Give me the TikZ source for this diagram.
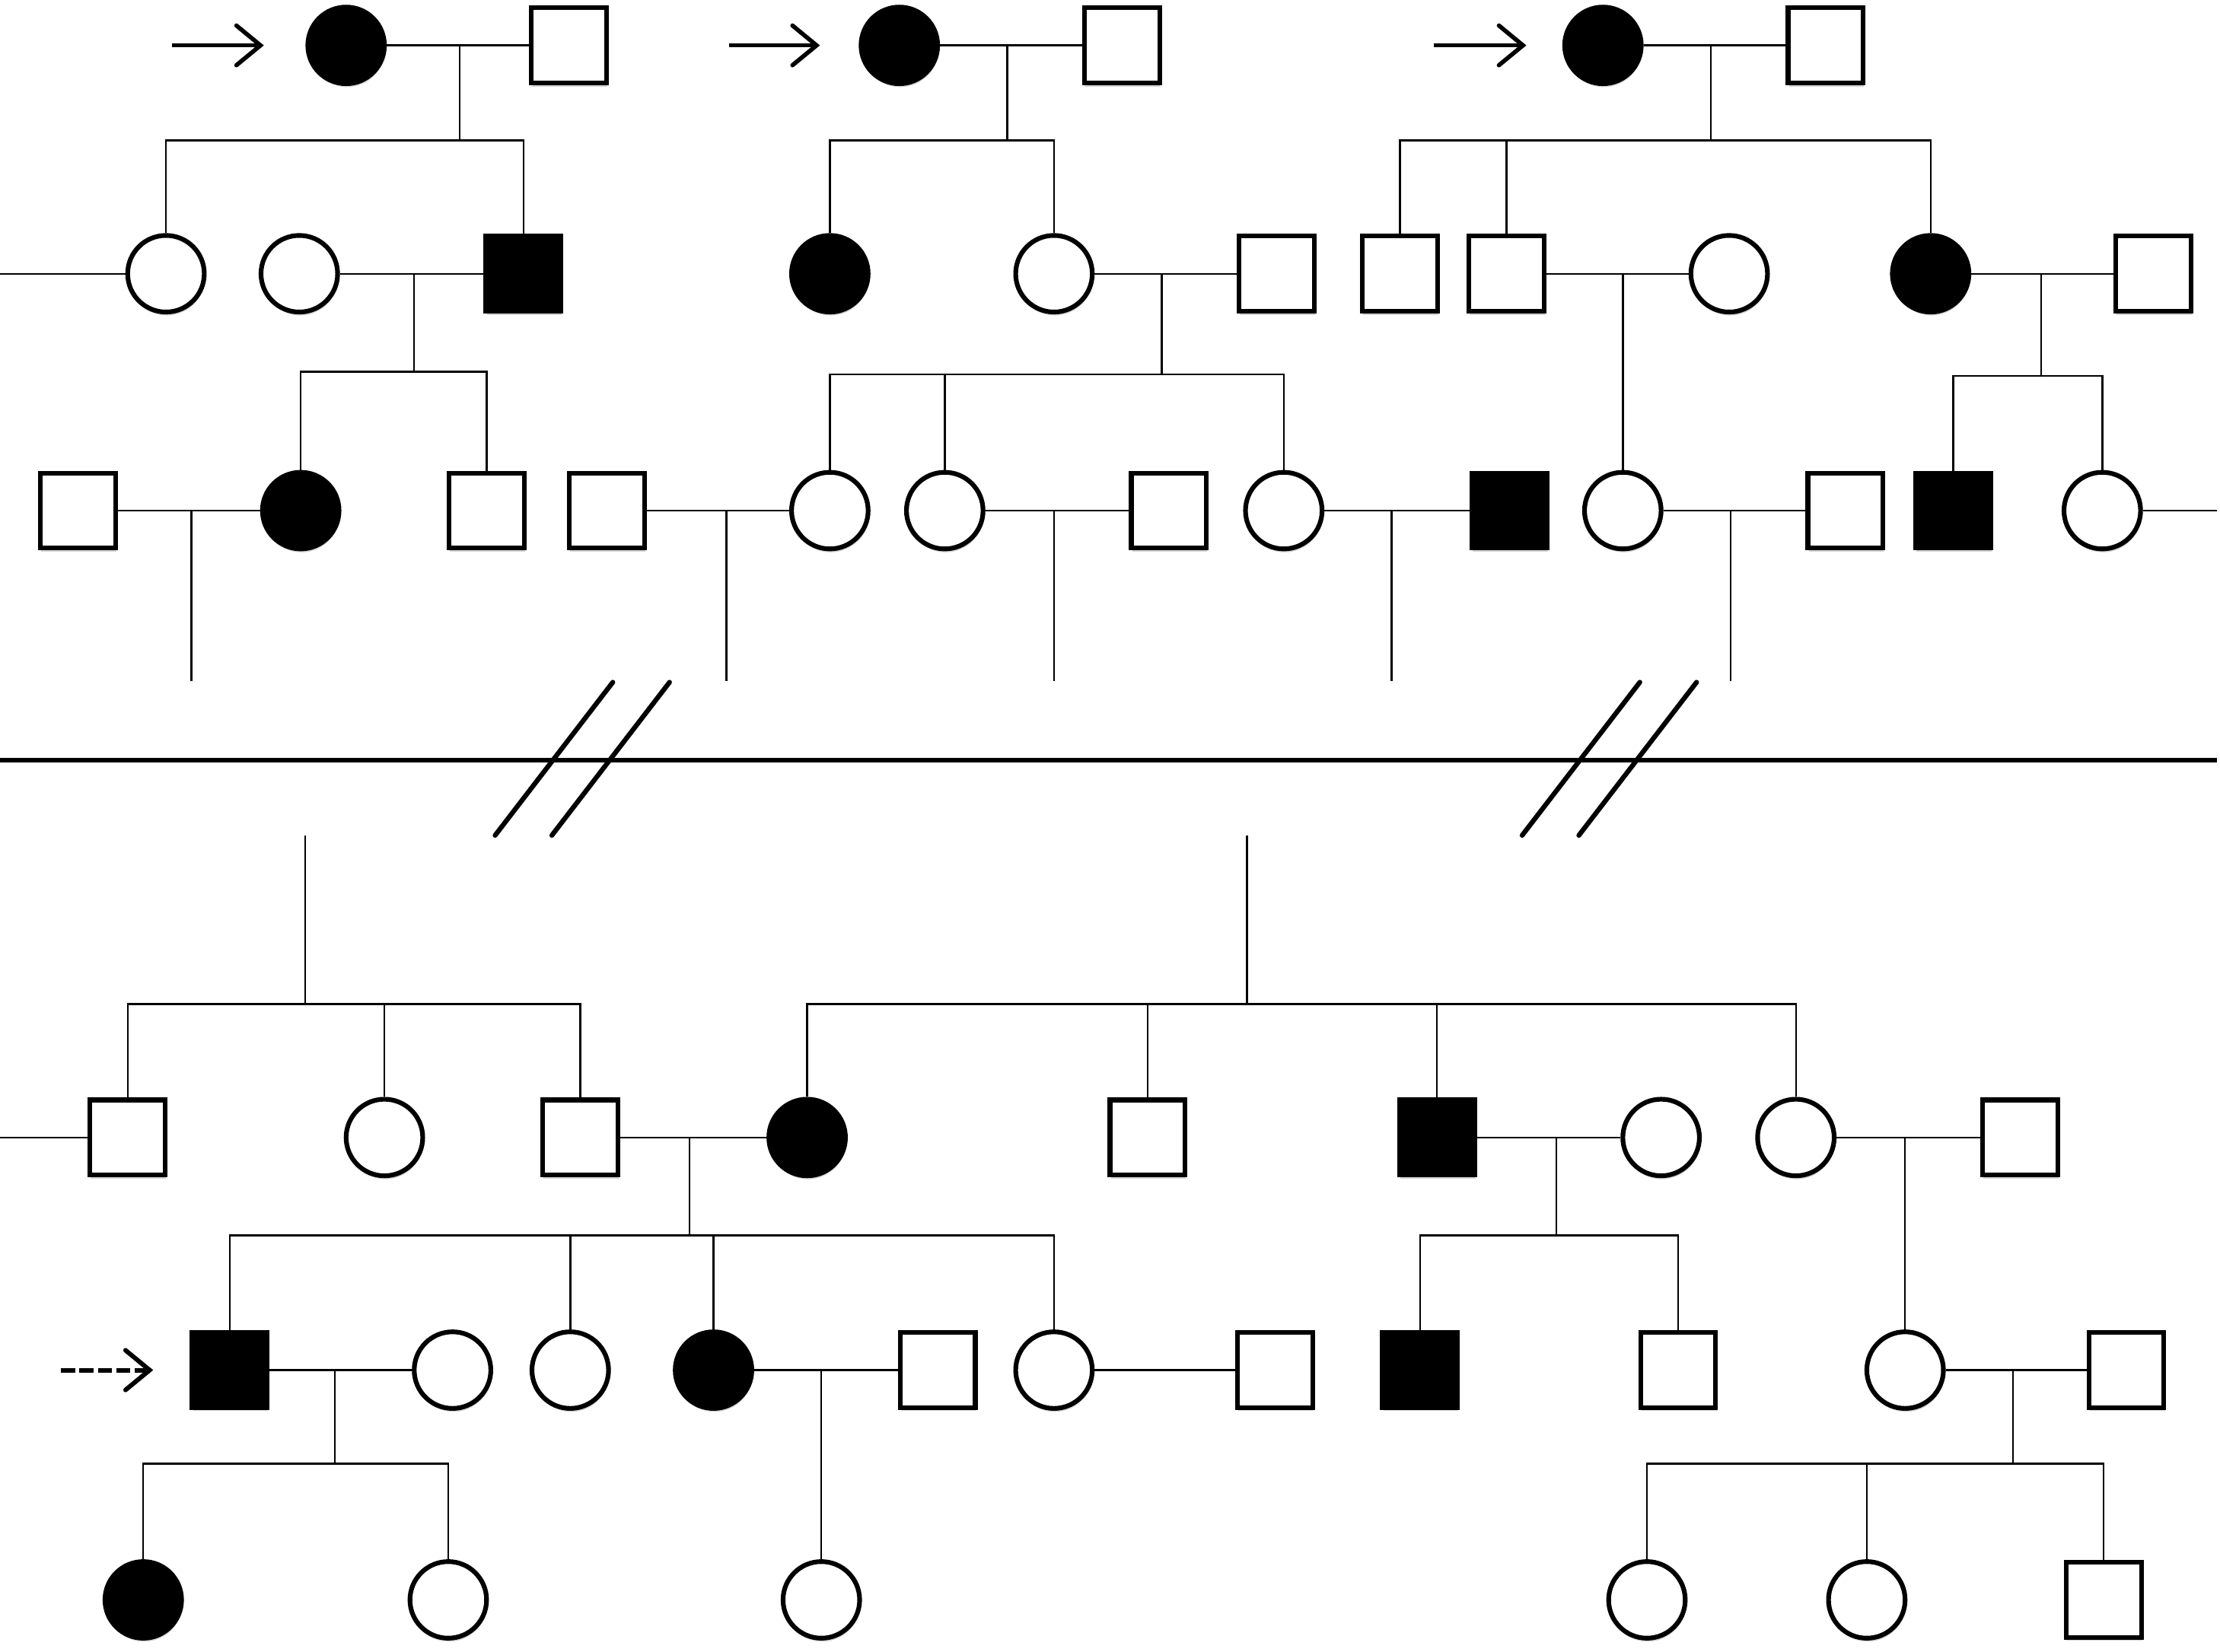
\documentclass[tikz,border=0pt]{standalone}
\usetikzlibrary{arrows.meta,shadows}
\begin{document}
\begin{tikzpicture}[x=1pt,y=-1pt,
  person/.style={draw=black,line width=3.3pt,fill=white,inner sep=0pt,
    drop shadow={fill=black,opacity=0.18,shadow xshift=0.6pt,shadow yshift=-2.4pt}},
  fem/.style={person,circle,minimum size=54pt},
  affem/.style={fem,fill=black},
  mal/.style={person,rectangle,minimum size=53pt},
  afmal/.style={mal,fill=black},
  conn/.style={line width=1.3pt,black},
  sep/.style={line width=3.4pt,black},
  slash/.style={line width=3.4pt,black,line cap=round},
  probarrow/.style={line width=3pt,-{Straight Barb[length=17pt,width=28pt,line cap=round]}},
  dasharrow/.style={line width=3.2pt,dash pattern=on 10pt off 3pt,-{Straight Barb[length=17pt,width=28pt,line cap=round]}}
]
\fill[white] (0,0) rectangle (1565,1164.3);
\useasboundingbox (0,0) rectangle (1565,1164.3);

% ---------------- top left ----------------
\node[affem] (A1) at (244,32) {};
\node[mal]   (A2) at (401,32) {};
\node[fem]   (B1) at (117,193) {};
\node[fem]   (B2) at (211,193) {};
\node[afmal] (B3) at (369,193) {};
\node[mal]   (C1) at (55,360) {};
\node[affem] (C2) at (212,360) {};
\node[mal]   (C3) at (343,360) {};

% ---------------- top middle ----------------
\node[affem] (D1) at (634,32) {};
\node[mal]   (D2) at (791,32) {};
\node[affem] (E1) at (585,193) {};
\node[fem]   (E2) at (743,193) {};
\node[mal]   (E3) at (900,193) {};
\node[mal]   (F1) at (428,360) {};
\node[fem]   (F2) at (585,360) {};
\node[fem]   (F3) at (666,360) {};
\node[mal]   (F4) at (824,360) {};
\node[fem]   (F5) at (905,360) {};
\node[afmal] (F6) at (1064,360) {};

% ---------------- top right ----------------
\node[affem] (G1) at (1130,32) {};
\node[mal]   (G2) at (1287,32) {};
\node[mal]   (H1) at (987,193) {};
\node[mal]   (H2) at (1062,193) {};
\node[fem]   (H3) at (1219,193) {};
\node[affem] (H4) at (1361,193) {};
\node[mal]   (H5) at (1518,193) {};
\node[fem]   (I1) at (1144,360) {};
\node[mal]   (I2) at (1301,360) {};
\node[afmal] (I3) at (1377,360) {};
\node[fem]   (I4) at (1482,360) {};

% ---------------- bottom ----------------
\node[mal]   (J1) at (90,802) {};
\node[fem]   (J2) at (271,802) {};
\node[mal]   (J3) at (409,802) {};
\node[affem] (K1) at (569,802) {};
\node[mal]   (K2) at (809,802) {};
\node[afmal] (K3) at (1013,802) {};
\node[fem]   (K4) at (1171,802) {};
\node[fem]   (K5) at (1266,802) {};
\node[mal]   (K6) at (1424,802) {};
\node[afmal] (L1) at (162,966) {};
\node[fem]   (L2) at (319,966) {};
\node[fem]   (L3) at (402,966) {};
\node[affem] (L4) at (503,966) {};
\node[mal]   (L5) at (661,966) {};
\node[fem]   (L6) at (743,966) {};
\node[mal]   (L7) at (899,966) {};
\node[afmal] (M1) at (1001,966) {};
\node[mal]   (M2) at (1183,966) {};
\node[fem]   (N1) at (1343,966) {};
\node[mal]   (N2) at (1499,966) {};
\node[affem] (P1) at (101,1128) {};
\node[fem]   (P2) at (316,1128) {};
\node[fem]   (P3) at (579,1128) {};
\node[fem]   (Q1) at (1161,1128) {};
\node[fem]   (Q2) at (1316,1128) {};
\node[mal]   (Q3) at (1483,1128) {};

% ---------------- coordinates ----------------
\coordinate (mA) at (324,32);   \coordinate (sA) at (324,99);
\coordinate (mB) at (292,193);  \coordinate (sB) at (292,262);
\coordinate (mC) at (135,360);  \coordinate (eC) at (135,480);
\coordinate (lB) at (0,193);
\coordinate (mD) at (710,32);   \coordinate (sD) at (710,99);
\coordinate (mE) at (819,193);  \coordinate (sE) at (819,264);
\coordinate (mF1) at (512,360); \coordinate (eF1) at (512,480);
\coordinate (mF3) at (743,360); \coordinate (eF3) at (743,480);
\coordinate (mF5) at (981,360); \coordinate (eF5) at (981,480);
\coordinate (mG) at (1206,32);  \coordinate (sG) at (1206,99);
\coordinate (mH2) at (1144,193);
\coordinate (mH4) at (1439,193); \coordinate (sH4) at (1439,265);
\coordinate (mI) at (1220,360); \coordinate (eI) at (1220,480);
\coordinate (rI) at (1563,360);

\coordinate (tJ) at (215,589);  \coordinate (sJ) at (215,708);
\coordinate (tK) at (879,589);  \coordinate (sK) at (879,708);
\coordinate (lJ) at (0,802);
\coordinate (mJK) at (486,802); \coordinate (sJK) at (486,871);
\coordinate (mK3) at (1097,802); \coordinate (sK3) at (1097,871);
\coordinate (mK5) at (1343,802);
\coordinate (mL1) at (236,966); \coordinate (sL1) at (236,1032);
\coordinate (mL4) at (579,966);
\coordinate (mN) at (1419,966); \coordinate (sN) at (1419,1032);

% ---------------- connectors: top left ----------------
\draw[conn] (A1) -- (A2);
\draw[conn] (mA) -- (sA);
\draw[conn] (B1) |- (sA) -| (B3);
\draw[conn] (lB) -- (B1);
\draw[conn] (B2) -- (B3);
\draw[conn] (mB) -- (sB);
\draw[conn] (C2) |- (sB) -| (C3);
\draw[conn] (C1) -- (C2);
\draw[conn] (mC) -- (eC);

% ---------------- connectors: top middle ----------------
\draw[conn] (D1) -- (D2);
\draw[conn] (mD) -- (sD);
\draw[conn] (E1) |- (sD) -| (E2);
\draw[conn] (E2) -- (E3);
\draw[conn] (mE) -- (sE);
\draw[conn] (F2) |- (sE) -| (F5);
\draw[conn] (sE -| F3) -- (F3);
\draw[conn] (F1) -- (F2);
\draw[conn] (mF1) -- (eF1);
\draw[conn] (F3) -- (F4);
\draw[conn] (mF3) -- (eF3);
\draw[conn] (F5) -- (F6);
\draw[conn] (mF5) -- (eF5);

% ---------------- connectors: top right ----------------
\draw[conn] (G1) -- (G2);
\draw[conn] (mG) -- (sG);
\draw[conn] (H1) |- (sG) -| (H4);
\draw[conn] (sG -| H2) -- (H2);
\draw[conn] (H2) -- (H3);
\draw[conn] (mH2) -- (I1);
\draw[conn] (H4) -- (H5);
\draw[conn] (mH4) -- (sH4);
\draw[conn] (I3) |- (sH4) -| (I4);
\draw[conn] (I4) -- (rI);
\draw[conn] (I1) -- (I2);
\draw[conn] (mI) -- (eI);

% ---------------- separator and breaks ----------------
\coordinate (sepL) at (0,536); \coordinate (sepR) at (1563,536);
\draw[sep] (sepL) -- (sepR);
\coordinate (s1a) at (349,589); \coordinate (s1b) at (432,481);
\coordinate (s2a) at (389,589); \coordinate (s2b) at (472,481);
\coordinate (s3a) at (1073,589); \coordinate (s3b) at (1156,481);
\coordinate (s4a) at (1113,589); \coordinate (s4b) at (1196,481);
\draw[slash] (s1a) -- (s1b);
\draw[slash] (s2a) -- (s2b);
\draw[slash] (s3a) -- (s3b);
\draw[slash] (s4a) -- (s4b);

% ---------------- connectors: bottom ----------------
\draw[conn] (tJ) -- (sJ);
\draw[conn] (J1) |- (sJ) -| (J3);
\draw[conn] (sJ -| J2) -- (J2);
\draw[conn] (lJ) -- (J1);
\draw[conn] (tK) -- (sK);
\draw[conn] (K1) |- (sK) -| (K5);
\draw[conn] (sK -| K2) -- (K2);
\draw[conn] (sK -| K3) -- (K3);
\draw[conn] (J3) -- (K1);
\draw[conn] (mJK) -- (sJK);
\draw[conn] (L1) |- (sJK) -| (L6);
\draw[conn] (sJK -| L3) -- (L3);
\draw[conn] (sJK -| L4) -- (L4);
\draw[conn] (K3) -- (K4);
\draw[conn] (mK3) -- (sK3);
\draw[conn] (M1) |- (sK3) -| (M2);
\draw[conn] (K5) -- (K6);
\draw[conn] (mK5) -- (N1);
\draw[conn] (L1) -- (L2);
\draw[conn] (mL1) -- (sL1);
\draw[conn] (P1) |- (sL1) -| (P2);
\draw[conn] (L4) -- (L5);
\draw[conn] (mL4) -- (P3);
\draw[conn] (L6) -- (L7);
\draw[conn] (N1) -- (N2);
\draw[conn] (mN) -- (sN);
\draw[conn] (Q1) |- (sN) -| (Q3);
\draw[conn] (sN -| Q2) -- (Q2);

% ---------------- proband arrows ----------------
\coordinate (arAs) at (121,32);  \coordinate (arAe) at (186,32);
\coordinate (arDs) at (514,32);  \coordinate (arDe) at (578,32);
\coordinate (arGs) at (1011,32); \coordinate (arGe) at (1076,32);
\coordinate (arLs) at (43,966);  \coordinate (arLe) at (108,966);
\draw[probarrow] (arAs) -- (arAe);
\draw[probarrow] (arDs) -- (arDe);
\draw[probarrow] (arGs) -- (arGe);
\draw[dasharrow] (arLs) -- (arLe);
\end{tikzpicture}
\end{document}
